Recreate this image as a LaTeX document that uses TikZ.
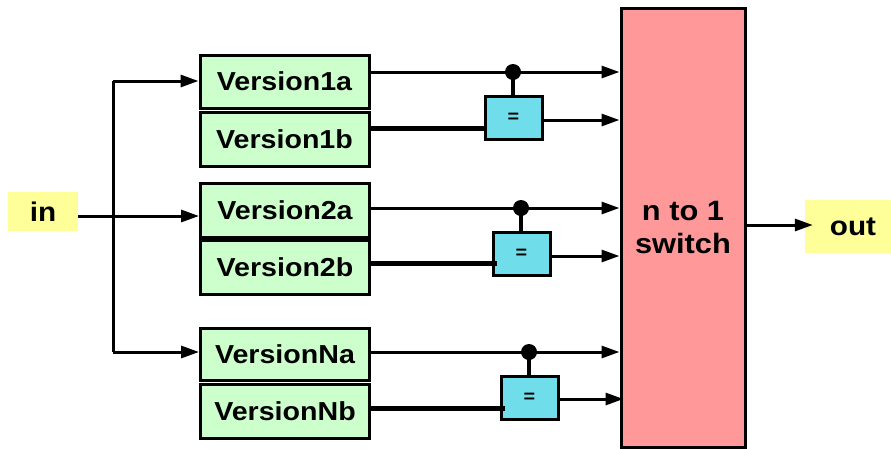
\documentclass[tikz,border=0pt]{standalone}
\usepackage{fontspec}
\setmainfont{Liberation Sans}[FakeStretch=1.1]
\usetikzlibrary{arrows.meta}

\definecolor{vgreen}{HTML}{CCFFCC}
\definecolor{cmpblue}{HTML}{70DDEA}
\definecolor{swred}{HTML}{FF9999}
\definecolor{ioyellow}{HTML}{FFFF99}

\tikzset{
  wire/.style={line width=3pt},
  busline/.style={line width=5pt},
  arr/.style={wire,-{Triangle[length=18pt,width=12pt]}},
  version/.style={draw,line width=3pt,fill=vgreen,inner sep=0pt,
    minimum width=169pt,minimum height=53pt,
    font=\fontsize{26}{30}\selectfont\bfseries},
  cmpbox/.style={draw,line width=3pt,fill=cmpblue,inner sep=0pt,
    minimum width=57pt,minimum height=43pt,
    font=\fontsize{18}{20}\selectfont\bfseries},
  iolabel/.style={fill=ioyellow,inner sep=0pt,
    font=\fontsize{27}{30}\selectfont\bfseries},
  tapdot/.style={circle,fill=black,inner sep=0pt,minimum size=16pt},
}

\begin{document}
\begin{tikzpicture}[x=1pt,y=-1pt]
\useasboundingbox (0,0) rectangle (891,448);
\clip (0,0) rectangle (891,448);

% input and output terminals
\node[iolabel,minimum width=70pt,minimum height=39pt] (in) at (43,211.5) {in};
\node[iolabel,minimum width=96pt,minimum height=53pt] (out) at (853,226.5) {out};

% the n to 1 switch
\node[draw,line width=3pt,fill=swred,minimum width=124pt,minimum height=439pt,
  align=center,font=\fontsize{28}{33}\selectfont\bfseries] (sw) at (683,227.5)
  {n to 1\\switch};

% redundant versions
\node[version] (v1a) at (284.5,81.5) {Version1a};
\node[version,minimum height=54pt] (v1b) at (284.5,139) {Version1b};
\node[version,minimum height=54pt] (v2a) at (285,210) {Version2a};
\node[version,minimum height=54pt] (v2b) at (285,267) {Version2b};
\node[version,minimum height=52pt] (vNa) at (285,354) {VersionNa};
\node[version,minimum height=54pt] (vNb) at (285,411) {VersionNb};

% comparators
\node[cmpbox] (c1) at (513.5,117.5) {=};
\node[cmpbox] (c2) at (521.5,253.5) {=};
\node[cmpbox] (cN) at (529.5,398) {=};

% fan-out from the input
\coordinate (trunk) at (113,216);
\coordinate (t1) at (113,81);
\coordinate (tN) at (113,352);
\draw[wire] (in.east |- trunk) -- (trunk);
\draw[wire] (t1) -- (tN);
\draw[arr] (t1) -- (v1a.west |- t1);
\draw[arr] (trunk) -- (v2a.west |- trunk);
\draw[arr] (tN) -- (vNa.west |- tN);

% primary outputs with taps to the comparators
\coordinate (d1) at (513,72);
\coordinate (d2) at (521,208);
\coordinate (dN) at (529,352);
\draw[arr] (v1a.east |- d1) -- (sw.west |- d1);
\draw[arr] (v2a.east |- d2) -- (sw.west |- d2);
\draw[arr] (vNa.east |- dN) -- (sw.west |- dN);
\draw[line width=4pt] (d1) -- (d1 |- c1.north);
\draw[line width=4pt] (d2) -- (d2 |- c2.north);
\draw[line width=4pt] (dN) -- (dN |- cN.north);
\node[tapdot] (dot1) at (d1) {};
\node[tapdot] (dot2) at (d2) {};
\node[tapdot] (dotN) at (dN) {};

% secondary outputs into the comparators
\coordinate (b1) at (485,128);
\coordinate (b2) at (497,263);
\coordinate (bN) at (505,408);
\draw[busline] (v1b.east |- b1) -- (b1);
\draw[busline] (v2b.east |- b2) -- (b2);
\draw[busline] (vNb.east |- bN) -- (bN);

% comparator results to the switch
\coordinate (o1) at (0,120);
\coordinate (o2) at (0,256);
\coordinate (oN) at (0,399);
\draw[arr] (c1.east |- o1) -- (sw.west |- o1);
\draw[arr] (c2.east |- o2) -- (sw.west |- o2);
\draw[arr] (cN.east |- oN) -- ([xshift=4pt]sw.west |- oN);

% switch output
\coordinate (so) at (0,225);
\draw[arr] (sw.east |- so) -- ([xshift=8pt]out.west |- so);
\end{tikzpicture}
\end{document}
